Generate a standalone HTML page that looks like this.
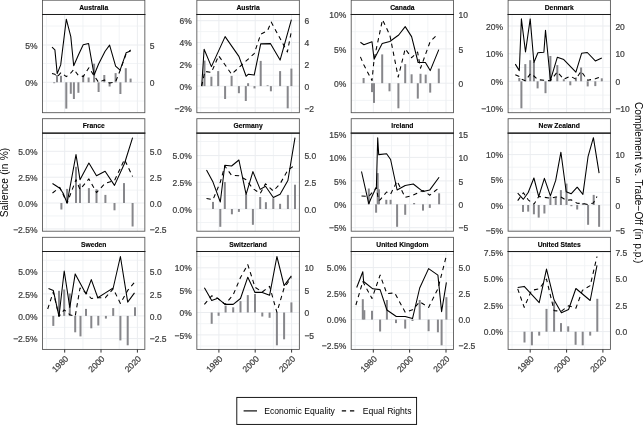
<!DOCTYPE html>
<html><head><meta charset="utf-8"><title>Salience panels</title>
<style>html,body{margin:0;padding:0;background:#fff;overflow:hidden}svg{display:block}</style>
</head><body>
<svg width="643" height="425" viewBox="0 0 643 425" font-family='"Liberation Sans", Arial, Helvetica, sans-serif'>
<rect x="0" y="0" width="643" height="425" fill="#ffffff"/>
<g>
<clipPath id="cAustralia"><rect x="42.55" y="14.4" width="102.3" height="98.3"/></clipPath>
<rect x="42.55" y="14.4" width="102.3" height="98.3" fill="#fff"/>
<g clip-path="url(#cAustralia)">
<line x1="42.55" x2="144.85" y1="26.0" y2="26.0" stroke="#eff1f4" stroke-width="0.8"/>
<line x1="42.55" x2="144.85" y1="63.5" y2="63.5" stroke="#eff1f4" stroke-width="0.8"/>
<line x1="42.55" x2="144.85" y1="101.0" y2="101.0" stroke="#eff1f4" stroke-width="0.8"/>
<line x1="46.5" x2="46.5" y1="14.4" y2="112.7" stroke="#eff1f4" stroke-width="0.8"/>
<line x1="82.9" x2="82.9" y1="14.4" y2="112.7" stroke="#eff1f4" stroke-width="0.8"/>
<line x1="119.2" x2="119.2" y1="14.4" y2="112.7" stroke="#eff1f4" stroke-width="0.8"/>
<line x1="42.55" x2="144.85" y1="45.0" y2="45.0" stroke="#ebedf0" stroke-width="1.0"/>
<line x1="42.55" x2="144.85" y1="82.3" y2="82.3" stroke="#ebedf0" stroke-width="1.0"/>
<line x1="64.7" x2="64.7" y1="14.4" y2="112.7" stroke="#ebedf0" stroke-width="1.0"/>
<line x1="101.0" x2="101.0" y1="14.4" y2="112.7" stroke="#ebedf0" stroke-width="1.0"/>
<line x1="137.4" x2="137.4" y1="14.4" y2="112.7" stroke="#ebedf0" stroke-width="1.0"/>
<rect x="53.20" y="82.3" width="2.0" height="0.9" fill="#87878b"/>
<rect x="56.00" y="75.0" width="2.0" height="7.3" fill="#87878b"/>
<rect x="60.00" y="75.8" width="2.0" height="6.5" fill="#87878b"/>
<rect x="65.30" y="82.3" width="2.0" height="26.3" fill="#87878b"/>
<rect x="69.80" y="82.3" width="2.0" height="11.5" fill="#87878b"/>
<rect x="72.90" y="82.3" width="2.0" height="16.7" fill="#87878b"/>
<rect x="77.40" y="82.3" width="2.0" height="10.5" fill="#87878b"/>
<rect x="82.20" y="75.0" width="2.0" height="7.3" fill="#87878b"/>
<rect x="87.60" y="77.5" width="2.0" height="4.8" fill="#87878b"/>
<rect x="93.10" y="63.7" width="2.0" height="18.6" fill="#87878b"/>
<rect x="97.60" y="82.3" width="2.0" height="9.7" fill="#87878b"/>
<rect x="103.30" y="75.0" width="2.0" height="7.3" fill="#87878b"/>
<rect x="108.60" y="82.3" width="2.0" height="4.2" fill="#87878b"/>
<rect x="114.60" y="73.1" width="2.0" height="9.2" fill="#87878b"/>
<rect x="119.40" y="82.3" width="2.0" height="11.7" fill="#87878b"/>
<rect x="124.80" y="68.2" width="2.0" height="14.1" fill="#87878b"/>
<rect x="129.60" y="78.6" width="2.0" height="3.7" fill="#87878b"/>
<polyline points="52.0,47.2 54.9,49.9 57.2,73.6 60.7,64.9 66.3,19.2 70.8,36.6 73.7,65.8 78.4,55.0 83.2,44.7 88.6,43.6 94.1,75.0 98.6,64.0 105.1,51.2 109.6,45.1 115.6,66.1 120.1,70.2 126.1,52.8 130.6,50.9" fill="none" stroke="#000" stroke-width="1.06" stroke-linejoin="round"/>
<polyline points="52.0,73.4 54.9,74.2 57.0,77.0 61.0,72.5 66.3,76.6 70.8,73.0 73.9,69.4 78.4,75.5 83.2,76.6 88.9,67.7 94.1,75.8 98.6,82.3 104.3,79.9 109.6,83.1 115.6,81.8 120.1,70.5 126.1,54.0 130.6,50.0" fill="none" stroke="#000" stroke-width="1.06" stroke-dasharray="4.3 3.85" stroke-linejoin="round"/>
</g>
<rect x="42.55" y="14.4" width="102.3" height="98.3" fill="none" stroke="#505050" stroke-width="0.85"/>
<rect x="42.55" y="0.2" width="102.3" height="14.2" fill="#fff" stroke="#505050" stroke-width="0.85"/>
<line x1="42.05" x2="145.35" y1="14.4" y2="14.4" stroke="#1c1c1c" stroke-width="1.05"/>
<text x="93.7" y="9.7" font-size="6.75" font-weight="bold" text-anchor="middle" fill="#000" stroke="#000" stroke-width="0.12">Australia</text>
<text transform="translate(37.5,48.65) scale(1,1.07)" font-size="8.5" text-anchor="end" fill="#3d3d3d" stroke="#3d3d3d" stroke-width="0.22">5%</text>
<text transform="translate(149.8,48.65) scale(1,1.07)" font-size="8.5" text-anchor="start" fill="#3d3d3d" stroke="#3d3d3d" stroke-width="0.22">5</text>
<text transform="translate(37.5,85.95) scale(1,1.07)" font-size="8.5" text-anchor="end" fill="#3d3d3d" stroke="#3d3d3d" stroke-width="0.22">0%</text>
<text transform="translate(149.8,85.95) scale(1,1.07)" font-size="8.5" text-anchor="start" fill="#3d3d3d" stroke="#3d3d3d" stroke-width="0.22">0</text>
</g>
<g>
<clipPath id="cAustria"><rect x="196.85" y="14.4" width="102.5" height="98.3"/></clipPath>
<rect x="196.85" y="14.4" width="102.5" height="98.3" fill="#fff"/>
<g clip-path="url(#cAustria)">
<line x1="196.85" x2="299.4" y1="31.6" y2="31.6" stroke="#eff1f4" stroke-width="0.8"/>
<line x1="196.85" x2="299.4" y1="53.4" y2="53.4" stroke="#eff1f4" stroke-width="0.8"/>
<line x1="196.85" x2="299.4" y1="75.2" y2="75.2" stroke="#eff1f4" stroke-width="0.8"/>
<line x1="196.85" x2="299.4" y1="97.0" y2="97.0" stroke="#eff1f4" stroke-width="0.8"/>
<line x1="200.7" x2="200.7" y1="14.4" y2="112.7" stroke="#eff1f4" stroke-width="0.8"/>
<line x1="237.1" x2="237.1" y1="14.4" y2="112.7" stroke="#eff1f4" stroke-width="0.8"/>
<line x1="273.4" x2="273.4" y1="14.4" y2="112.7" stroke="#eff1f4" stroke-width="0.8"/>
<line x1="196.85" x2="299.4" y1="20.7" y2="20.7" stroke="#ebedf0" stroke-width="1.0"/>
<line x1="196.85" x2="299.4" y1="42.5" y2="42.5" stroke="#ebedf0" stroke-width="1.0"/>
<line x1="196.85" x2="299.4" y1="64.3" y2="64.3" stroke="#ebedf0" stroke-width="1.0"/>
<line x1="196.85" x2="299.4" y1="86.1" y2="86.1" stroke="#ebedf0" stroke-width="1.0"/>
<line x1="196.85" x2="299.4" y1="107.9" y2="107.9" stroke="#ebedf0" stroke-width="1.0"/>
<line x1="218.9" x2="218.9" y1="14.4" y2="112.7" stroke="#ebedf0" stroke-width="1.0"/>
<line x1="255.2" x2="255.2" y1="14.4" y2="112.7" stroke="#ebedf0" stroke-width="1.0"/>
<line x1="291.6" x2="291.6" y1="14.4" y2="112.7" stroke="#ebedf0" stroke-width="1.0"/>
<rect x="203.50" y="60.6" width="2.0" height="25.5" fill="#87878b"/>
<rect x="210.40" y="76.7" width="2.0" height="9.4" fill="#87878b"/>
<rect x="217.20" y="71.1" width="2.0" height="15.0" fill="#87878b"/>
<rect x="224.10" y="86.1" width="2.0" height="12.9" fill="#87878b"/>
<rect x="230.60" y="75.9" width="2.0" height="10.2" fill="#87878b"/>
<rect x="237.90" y="86.1" width="2.0" height="7.1" fill="#87878b"/>
<rect x="244.80" y="86.1" width="2.0" height="14.9" fill="#87878b"/>
<rect x="247.10" y="83.2" width="2.0" height="2.9" fill="#87878b"/>
<rect x="253.50" y="86.1" width="2.0" height="2.3" fill="#87878b"/>
<rect x="259.70" y="60.9" width="2.0" height="25.2" fill="#87878b"/>
<rect x="266.60" y="85.3" width="2.0" height="0.8" fill="#87878b"/>
<rect x="269.90" y="86.1" width="2.0" height="5.2" fill="#87878b"/>
<rect x="279.10" y="71.1" width="2.0" height="15.0" fill="#87878b"/>
<rect x="286.70" y="86.1" width="2.0" height="22.2" fill="#87878b"/>
<rect x="290.40" y="68.6" width="2.0" height="17.5" fill="#87878b"/>
<polyline points="201.7,86.1 204.1,49.3 211.4,66.6 225.1,36.6 238.9,56.4 246.1,76.3 248.4,74.2 254.2,75.1 260.7,43.9 270.4,43.6 280.1,60.1 291.4,19.7" fill="none" stroke="#000" stroke-width="1.06" stroke-linejoin="round"/>
<polyline points="201.7,86.1 204.9,71.4 211.4,72.5 218.6,55.7 231.6,74.2 254.2,53.6 260.7,34.2 267.6,30.5 271.2,22.1 287.4,52.0 291.4,31.0" fill="none" stroke="#000" stroke-width="1.06" stroke-dasharray="4.3 3.85" stroke-linejoin="round"/>
</g>
<rect x="196.85" y="14.4" width="102.5" height="98.3" fill="none" stroke="#505050" stroke-width="0.85"/>
<rect x="196.85" y="0.2" width="102.5" height="14.2" fill="#fff" stroke="#505050" stroke-width="0.85"/>
<line x1="196.35" x2="299.90" y1="14.4" y2="14.4" stroke="#1c1c1c" stroke-width="1.05"/>
<text x="248.1" y="9.7" font-size="6.75" font-weight="bold" text-anchor="middle" fill="#000" stroke="#000" stroke-width="0.12">Austria</text>
<text transform="translate(191.8,24.35) scale(1,1.07)" font-size="8.5" text-anchor="end" fill="#3d3d3d" stroke="#3d3d3d" stroke-width="0.22">6%</text>
<text transform="translate(304.4,24.35) scale(1,1.07)" font-size="8.5" text-anchor="start" fill="#3d3d3d" stroke="#3d3d3d" stroke-width="0.22">6</text>
<text transform="translate(191.8,46.15) scale(1,1.07)" font-size="8.5" text-anchor="end" fill="#3d3d3d" stroke="#3d3d3d" stroke-width="0.22">4%</text>
<text transform="translate(304.4,46.15) scale(1,1.07)" font-size="8.5" text-anchor="start" fill="#3d3d3d" stroke="#3d3d3d" stroke-width="0.22">4</text>
<text transform="translate(191.8,67.95) scale(1,1.07)" font-size="8.5" text-anchor="end" fill="#3d3d3d" stroke="#3d3d3d" stroke-width="0.22">2%</text>
<text transform="translate(304.4,67.95) scale(1,1.07)" font-size="8.5" text-anchor="start" fill="#3d3d3d" stroke="#3d3d3d" stroke-width="0.22">2</text>
<text transform="translate(191.8,89.75) scale(1,1.07)" font-size="8.5" text-anchor="end" fill="#3d3d3d" stroke="#3d3d3d" stroke-width="0.22">0%</text>
<text transform="translate(304.4,89.75) scale(1,1.07)" font-size="8.5" text-anchor="start" fill="#3d3d3d" stroke="#3d3d3d" stroke-width="0.22">0</text>
<text transform="translate(191.8,111.55) scale(1,1.07)" font-size="8.5" text-anchor="end" fill="#3d3d3d" stroke="#3d3d3d" stroke-width="0.22">−2%</text>
<text transform="translate(304.4,111.55) scale(1,1.07)" font-size="8.5" text-anchor="start" fill="#3d3d3d" stroke="#3d3d3d" stroke-width="0.22">−2</text>
</g>
<g>
<clipPath id="cCanada"><rect x="351.2" y="14.4" width="102.3" height="98.3"/></clipPath>
<rect x="351.2" y="14.4" width="102.3" height="98.3" fill="#fff"/>
<g clip-path="url(#cCanada)">
<line x1="351.2" x2="453.5" y1="31.7" y2="31.7" stroke="#eff1f4" stroke-width="0.8"/>
<line x1="351.2" x2="453.5" y1="66.0" y2="66.0" stroke="#eff1f4" stroke-width="0.8"/>
<line x1="351.2" x2="453.5" y1="100.4" y2="100.4" stroke="#eff1f4" stroke-width="0.8"/>
<line x1="355.1" x2="355.1" y1="14.4" y2="112.7" stroke="#eff1f4" stroke-width="0.8"/>
<line x1="391.5" x2="391.5" y1="14.4" y2="112.7" stroke="#eff1f4" stroke-width="0.8"/>
<line x1="427.8" x2="427.8" y1="14.4" y2="112.7" stroke="#eff1f4" stroke-width="0.8"/>
<line x1="351.2" x2="453.5" y1="14.5" y2="14.5" stroke="#ebedf0" stroke-width="1.0"/>
<line x1="351.2" x2="453.5" y1="48.9" y2="48.9" stroke="#ebedf0" stroke-width="1.0"/>
<line x1="351.2" x2="453.5" y1="83.2" y2="83.2" stroke="#ebedf0" stroke-width="1.0"/>
<line x1="373.3" x2="373.3" y1="14.4" y2="112.7" stroke="#ebedf0" stroke-width="1.0"/>
<line x1="409.6" x2="409.6" y1="14.4" y2="112.7" stroke="#ebedf0" stroke-width="1.0"/>
<line x1="446.0" x2="446.0" y1="14.4" y2="112.7" stroke="#ebedf0" stroke-width="1.0"/>
<rect x="362.60" y="78.0" width="2.0" height="5.2" fill="#87878b"/>
<rect x="371.00" y="83.2" width="2.0" height="8.9" fill="#87878b"/>
<rect x="373.00" y="83.2" width="2.0" height="19.7" fill="#87878b"/>
<rect x="381.20" y="54.4" width="2.0" height="28.8" fill="#87878b"/>
<rect x="388.50" y="83.2" width="2.0" height="8.1" fill="#87878b"/>
<rect x="397.40" y="83.2" width="2.0" height="25.1" fill="#87878b"/>
<rect x="404.20" y="64.1" width="2.0" height="19.1" fill="#87878b"/>
<rect x="410.60" y="74.3" width="2.0" height="8.9" fill="#87878b"/>
<rect x="416.80" y="83.2" width="2.0" height="15.4" fill="#87878b"/>
<rect x="419.50" y="73.8" width="2.0" height="9.4" fill="#87878b"/>
<rect x="424.70" y="74.6" width="2.0" height="8.6" fill="#87878b"/>
<rect x="429.20" y="83.2" width="2.0" height="9.4" fill="#87878b"/>
<rect x="437.80" y="68.6" width="2.0" height="14.6" fill="#87878b"/>
<polyline points="360.4,42.3 363.9,44.7 372.0,41.8 374.1,59.3 382.2,43.6 389.8,41.5 398.7,35.0 405.2,26.6 411.6,36.6 418.1,62.5 425.4,62.5 430.2,70.6 438.8,49.6" fill="none" stroke="#000" stroke-width="1.06" stroke-linejoin="round"/>
<polyline points="360.4,56.9 363.9,65.0 372.0,80.6 374.1,59.3 382.5,19.7 389.8,35.0 398.2,77.1 405.2,48.8 411.6,57.7 417.6,52.0 420.5,68.2 430.2,41.5 438.0,34.0" fill="none" stroke="#000" stroke-width="1.06" stroke-dasharray="4.3 3.85" stroke-linejoin="round"/>
</g>
<rect x="351.2" y="14.4" width="102.3" height="98.3" fill="none" stroke="#505050" stroke-width="0.85"/>
<rect x="351.2" y="0.2" width="102.3" height="14.2" fill="#fff" stroke="#505050" stroke-width="0.85"/>
<line x1="350.70" x2="454.00" y1="14.4" y2="14.4" stroke="#1c1c1c" stroke-width="1.05"/>
<text x="402.4" y="9.7" font-size="6.75" font-weight="bold" text-anchor="middle" fill="#000" stroke="#000" stroke-width="0.12">Canada</text>
<text transform="translate(346.2,18.15) scale(1,1.07)" font-size="8.5" text-anchor="end" fill="#3d3d3d" stroke="#3d3d3d" stroke-width="0.22">10%</text>
<text transform="translate(458.5,18.15) scale(1,1.07)" font-size="8.5" text-anchor="start" fill="#3d3d3d" stroke="#3d3d3d" stroke-width="0.22">10</text>
<text transform="translate(346.2,52.55) scale(1,1.07)" font-size="8.5" text-anchor="end" fill="#3d3d3d" stroke="#3d3d3d" stroke-width="0.22">5%</text>
<text transform="translate(458.5,52.55) scale(1,1.07)" font-size="8.5" text-anchor="start" fill="#3d3d3d" stroke="#3d3d3d" stroke-width="0.22">5</text>
<text transform="translate(346.2,86.85) scale(1,1.07)" font-size="8.5" text-anchor="end" fill="#3d3d3d" stroke="#3d3d3d" stroke-width="0.22">0%</text>
<text transform="translate(458.5,86.85) scale(1,1.07)" font-size="8.5" text-anchor="start" fill="#3d3d3d" stroke="#3d3d3d" stroke-width="0.22">0</text>
</g>
<g>
<clipPath id="cDenmark"><rect x="508.1" y="14.4" width="102.3" height="98.3"/></clipPath>
<rect x="508.1" y="14.4" width="102.3" height="98.3" fill="#fff"/>
<g clip-path="url(#cDenmark)">
<line x1="508.1" x2="610.4" y1="40.0" y2="40.0" stroke="#eff1f4" stroke-width="0.8"/>
<line x1="508.1" x2="610.4" y1="67.5" y2="67.5" stroke="#eff1f4" stroke-width="0.8"/>
<line x1="508.1" x2="610.4" y1="95.1" y2="95.1" stroke="#eff1f4" stroke-width="0.8"/>
<line x1="512.0" x2="512.0" y1="14.4" y2="112.7" stroke="#eff1f4" stroke-width="0.8"/>
<line x1="548.4" x2="548.4" y1="14.4" y2="112.7" stroke="#eff1f4" stroke-width="0.8"/>
<line x1="584.7" x2="584.7" y1="14.4" y2="112.7" stroke="#eff1f4" stroke-width="0.8"/>
<line x1="508.1" x2="610.4" y1="26.0" y2="26.0" stroke="#ebedf0" stroke-width="1.0"/>
<line x1="508.1" x2="610.4" y1="53.8" y2="53.8" stroke="#ebedf0" stroke-width="1.0"/>
<line x1="508.1" x2="610.4" y1="81.3" y2="81.3" stroke="#ebedf0" stroke-width="1.0"/>
<line x1="508.1" x2="610.4" y1="108.8" y2="108.8" stroke="#ebedf0" stroke-width="1.0"/>
<line x1="530.2" x2="530.2" y1="14.4" y2="112.7" stroke="#ebedf0" stroke-width="1.0"/>
<line x1="566.6" x2="566.6" y1="14.4" y2="112.7" stroke="#ebedf0" stroke-width="1.0"/>
<line x1="602.9" x2="602.9" y1="14.4" y2="112.7" stroke="#ebedf0" stroke-width="1.0"/>
<rect x="518.30" y="78.0" width="2.0" height="3.3" fill="#87878b"/>
<rect x="520.40" y="81.3" width="2.0" height="27.0" fill="#87878b"/>
<rect x="524.30" y="64.1" width="2.0" height="17.2" fill="#87878b"/>
<rect x="529.20" y="60.2" width="2.0" height="21.1" fill="#87878b"/>
<rect x="532.90" y="62.2" width="2.0" height="19.1" fill="#87878b"/>
<rect x="536.60" y="81.3" width="2.0" height="7.1" fill="#87878b"/>
<rect x="544.50" y="81.3" width="2.0" height="11.9" fill="#87878b"/>
<rect x="549.40" y="56.0" width="2.0" height="25.3" fill="#87878b"/>
<rect x="556.30" y="65.1" width="2.0" height="16.2" fill="#87878b"/>
<rect x="562.80" y="79.2" width="2.0" height="2.1" fill="#87878b"/>
<rect x="569.30" y="81.3" width="2.0" height="4.0" fill="#87878b"/>
<rect x="574.90" y="77.5" width="2.0" height="3.8" fill="#87878b"/>
<rect x="580.10" y="67.5" width="2.0" height="13.8" fill="#87878b"/>
<rect x="586.70" y="81.3" width="2.0" height="5.1" fill="#87878b"/>
<rect x="594.30" y="81.3" width="2.0" height="4.8" fill="#87878b"/>
<rect x="600.80" y="78.3" width="2.0" height="3.0" fill="#87878b"/>
<polyline points="515.3,64.1 519.3,70.6 521.4,18.9 525.5,52.0 530.2,18.9 533.9,62.5 537.9,52.8 543.9,52.3 545.5,30.2 550.4,80.3 557.3,57.3 563.8,59.6 575.9,72.2 581.6,53.3 587.3,52.5 595.3,60.9 601.8,58.0" fill="none" stroke="#000" stroke-width="1.06" stroke-linejoin="round"/>
<polyline points="515.3,74.8 519.3,76.4 521.4,79.2 525.3,80.8 530.6,73.5 533.9,76.0 537.6,79.6 545.5,80.5 550.4,80.8 557.3,71.9 563.8,79.2 570.3,76.2 575.9,79.2 581.1,71.1 587.7,80.3 595.3,78.8 601.8,76.4" fill="none" stroke="#000" stroke-width="1.06" stroke-dasharray="4.3 3.85" stroke-linejoin="round"/>
</g>
<rect x="508.1" y="14.4" width="102.3" height="98.3" fill="none" stroke="#505050" stroke-width="0.85"/>
<rect x="508.1" y="0.2" width="102.3" height="14.2" fill="#fff" stroke="#505050" stroke-width="0.85"/>
<line x1="507.60" x2="610.90" y1="14.4" y2="14.4" stroke="#1c1c1c" stroke-width="1.05"/>
<text x="559.2" y="9.7" font-size="6.75" font-weight="bold" text-anchor="middle" fill="#000" stroke="#000" stroke-width="0.12">Denmark</text>
<text transform="translate(503.1,29.65) scale(1,1.07)" font-size="8.5" text-anchor="end" fill="#3d3d3d" stroke="#3d3d3d" stroke-width="0.22">20%</text>
<text transform="translate(615.4,29.65) scale(1,1.07)" font-size="8.5" text-anchor="start" fill="#3d3d3d" stroke="#3d3d3d" stroke-width="0.22">20</text>
<text transform="translate(503.1,57.45) scale(1,1.07)" font-size="8.5" text-anchor="end" fill="#3d3d3d" stroke="#3d3d3d" stroke-width="0.22">10%</text>
<text transform="translate(615.4,57.45) scale(1,1.07)" font-size="8.5" text-anchor="start" fill="#3d3d3d" stroke="#3d3d3d" stroke-width="0.22">10</text>
<text transform="translate(503.1,84.95) scale(1,1.07)" font-size="8.5" text-anchor="end" fill="#3d3d3d" stroke="#3d3d3d" stroke-width="0.22">0%</text>
<text transform="translate(615.4,84.95) scale(1,1.07)" font-size="8.5" text-anchor="start" fill="#3d3d3d" stroke="#3d3d3d" stroke-width="0.22">0</text>
<text transform="translate(503.1,112.45) scale(1,1.07)" font-size="8.5" text-anchor="end" fill="#3d3d3d" stroke="#3d3d3d" stroke-width="0.22">−10%</text>
<text transform="translate(615.4,112.45) scale(1,1.07)" font-size="8.5" text-anchor="start" fill="#3d3d3d" stroke="#3d3d3d" stroke-width="0.22">−10</text>
</g>
<g>
<clipPath id="cFrance"><rect x="42.55" y="133.1" width="102.3" height="98.1"/></clipPath>
<rect x="42.55" y="133.1" width="102.3" height="98.1" fill="#fff"/>
<g clip-path="url(#cFrance)">
<line x1="42.55" x2="144.85" y1="138.4" y2="138.4" stroke="#eff1f4" stroke-width="0.8"/>
<line x1="42.55" x2="144.85" y1="164.2" y2="164.2" stroke="#eff1f4" stroke-width="0.8"/>
<line x1="42.55" x2="144.85" y1="190.1" y2="190.1" stroke="#eff1f4" stroke-width="0.8"/>
<line x1="42.55" x2="144.85" y1="215.9" y2="215.9" stroke="#eff1f4" stroke-width="0.8"/>
<line x1="46.5" x2="46.5" y1="133.1" y2="231.2" stroke="#eff1f4" stroke-width="0.8"/>
<line x1="82.9" x2="82.9" y1="133.1" y2="231.2" stroke="#eff1f4" stroke-width="0.8"/>
<line x1="119.2" x2="119.2" y1="133.1" y2="231.2" stroke="#eff1f4" stroke-width="0.8"/>
<line x1="42.55" x2="144.85" y1="151.3" y2="151.3" stroke="#ebedf0" stroke-width="1.0"/>
<line x1="42.55" x2="144.85" y1="177.2" y2="177.2" stroke="#ebedf0" stroke-width="1.0"/>
<line x1="42.55" x2="144.85" y1="203.0" y2="203.0" stroke="#ebedf0" stroke-width="1.0"/>
<line x1="42.55" x2="144.85" y1="228.9" y2="228.9" stroke="#ebedf0" stroke-width="1.0"/>
<line x1="64.7" x2="64.7" y1="133.1" y2="231.2" stroke="#ebedf0" stroke-width="1.0"/>
<line x1="101.0" x2="101.0" y1="133.1" y2="231.2" stroke="#ebedf0" stroke-width="1.0"/>
<line x1="137.4" x2="137.4" y1="133.1" y2="231.2" stroke="#ebedf0" stroke-width="1.0"/>
<rect x="60.40" y="203.0" width="2.0" height="6.5" fill="#87878b"/>
<rect x="66.10" y="188.9" width="2.0" height="14.1" fill="#87878b"/>
<rect x="75.00" y="166.8" width="2.0" height="36.2" fill="#87878b"/>
<rect x="79.00" y="183.6" width="2.0" height="19.4" fill="#87878b"/>
<rect x="87.90" y="188.1" width="2.0" height="14.9" fill="#87878b"/>
<rect x="95.50" y="189.3" width="2.0" height="13.7" fill="#87878b"/>
<rect x="104.40" y="194.9" width="2.0" height="8.1" fill="#87878b"/>
<rect x="113.50" y="203.0" width="2.0" height="7.3" fill="#87878b"/>
<rect x="123.00" y="183.1" width="2.0" height="19.9" fill="#87878b"/>
<rect x="131.60" y="203.0" width="2.0" height="23.5" fill="#87878b"/>
<polyline points="52.5,183.5 59.8,188.2 63.0,193.0 67.1,203.0 76.0,154.6 80.0,179.7 88.9,163.1 96.5,175.7 105.1,171.3 114.5,185.4 124.5,163.5 132.6,137.7" fill="none" stroke="#000" stroke-width="1.06" stroke-linejoin="round"/>
<polyline points="52.5,193.0 59.8,187.4 67.1,203.0 76.0,179.7 80.0,189.4 88.9,178.9 96.5,192.6 105.1,183.4 114.5,180.5 124.5,159.5 132.6,176.5" fill="none" stroke="#000" stroke-width="1.06" stroke-dasharray="4.3 3.85" stroke-linejoin="round"/>
</g>
<rect x="42.55" y="133.1" width="102.3" height="98.1" fill="none" stroke="#505050" stroke-width="0.85"/>
<rect x="42.55" y="118.7" width="102.3" height="14.4" fill="#fff" stroke="#505050" stroke-width="0.85"/>
<line x1="42.05" x2="145.35" y1="133.1" y2="133.1" stroke="#1c1c1c" stroke-width="1.05"/>
<text x="93.7" y="128.3" font-size="6.75" font-weight="bold" text-anchor="middle" fill="#000" stroke="#000" stroke-width="0.12">France</text>
<text transform="translate(37.5,154.95) scale(1,1.07)" font-size="8.5" text-anchor="end" fill="#3d3d3d" stroke="#3d3d3d" stroke-width="0.22">5.0%</text>
<text transform="translate(149.8,154.95) scale(1,1.07)" font-size="8.5" text-anchor="start" fill="#3d3d3d" stroke="#3d3d3d" stroke-width="0.22">5.0</text>
<text transform="translate(37.5,180.85) scale(1,1.07)" font-size="8.5" text-anchor="end" fill="#3d3d3d" stroke="#3d3d3d" stroke-width="0.22">2.5%</text>
<text transform="translate(149.8,180.85) scale(1,1.07)" font-size="8.5" text-anchor="start" fill="#3d3d3d" stroke="#3d3d3d" stroke-width="0.22">2.5</text>
<text transform="translate(37.5,206.65) scale(1,1.07)" font-size="8.5" text-anchor="end" fill="#3d3d3d" stroke="#3d3d3d" stroke-width="0.22">0.0%</text>
<text transform="translate(149.8,206.65) scale(1,1.07)" font-size="8.5" text-anchor="start" fill="#3d3d3d" stroke="#3d3d3d" stroke-width="0.22">0.0</text>
<text transform="translate(37.5,232.55) scale(1,1.07)" font-size="8.5" text-anchor="end" fill="#3d3d3d" stroke="#3d3d3d" stroke-width="0.22">−2.5%</text>
<text transform="translate(149.8,232.55) scale(1,1.07)" font-size="8.5" text-anchor="start" fill="#3d3d3d" stroke="#3d3d3d" stroke-width="0.22">−2.5</text>
</g>
<g>
<clipPath id="cGermany"><rect x="196.85" y="133.1" width="102.5" height="98.1"/></clipPath>
<rect x="196.85" y="133.1" width="102.5" height="98.1" fill="#fff"/>
<g clip-path="url(#cGermany)">
<line x1="196.85" x2="299.4" y1="141.5" y2="141.5" stroke="#eff1f4" stroke-width="0.8"/>
<line x1="196.85" x2="299.4" y1="168.5" y2="168.5" stroke="#eff1f4" stroke-width="0.8"/>
<line x1="196.85" x2="299.4" y1="195.5" y2="195.5" stroke="#eff1f4" stroke-width="0.8"/>
<line x1="196.85" x2="299.4" y1="222.5" y2="222.5" stroke="#eff1f4" stroke-width="0.8"/>
<line x1="200.7" x2="200.7" y1="133.1" y2="231.2" stroke="#eff1f4" stroke-width="0.8"/>
<line x1="237.1" x2="237.1" y1="133.1" y2="231.2" stroke="#eff1f4" stroke-width="0.8"/>
<line x1="273.4" x2="273.4" y1="133.1" y2="231.2" stroke="#eff1f4" stroke-width="0.8"/>
<line x1="196.85" x2="299.4" y1="155.6" y2="155.6" stroke="#ebedf0" stroke-width="1.0"/>
<line x1="196.85" x2="299.4" y1="182.3" y2="182.3" stroke="#ebedf0" stroke-width="1.0"/>
<line x1="196.85" x2="299.4" y1="209.0" y2="209.0" stroke="#ebedf0" stroke-width="1.0"/>
<line x1="218.9" x2="218.9" y1="133.1" y2="231.2" stroke="#ebedf0" stroke-width="1.0"/>
<line x1="255.2" x2="255.2" y1="133.1" y2="231.2" stroke="#ebedf0" stroke-width="1.0"/>
<line x1="291.6" x2="291.6" y1="133.1" y2="231.2" stroke="#ebedf0" stroke-width="1.0"/>
<rect x="212.00" y="201.9" width="2.0" height="7.1" fill="#87878b"/>
<rect x="219.30" y="209.0" width="2.0" height="17.8" fill="#87878b"/>
<rect x="223.80" y="182.0" width="2.0" height="27.0" fill="#87878b"/>
<rect x="230.90" y="209.0" width="2.0" height="5.3" fill="#87878b"/>
<rect x="237.90" y="209.0" width="2.0" height="2.9" fill="#87878b"/>
<rect x="245.10" y="194.1" width="2.0" height="14.9" fill="#87878b"/>
<rect x="251.90" y="209.0" width="2.0" height="15.8" fill="#87878b"/>
<rect x="259.20" y="197.0" width="2.0" height="12.0" fill="#87878b"/>
<rect x="264.90" y="202.2" width="2.0" height="6.8" fill="#87878b"/>
<rect x="272.30" y="198.2" width="2.0" height="10.8" fill="#87878b"/>
<rect x="279.10" y="203.8" width="2.0" height="5.2" fill="#87878b"/>
<rect x="286.90" y="194.9" width="2.0" height="14.1" fill="#87878b"/>
<rect x="294.00" y="184.7" width="2.0" height="24.3" fill="#87878b"/>
<polyline points="206.5,170.0 213.0,182.1 220.3,202.0 224.8,165.2 231.6,166.0 238.9,160.0 246.1,194.3 252.9,171.6 260.2,189.4 265.5,186.2 273.3,197.5 280.1,194.3 287.9,180.5 295.0,137.7" fill="none" stroke="#000" stroke-width="1.06" stroke-linejoin="round"/>
<polyline points="206.5,198.5 213.0,199.6 220.3,182.1 224.8,166.0 231.6,175.3 238.9,175.7 246.1,179.7 252.9,188.6 260.2,193.5 265.5,183.8 273.3,191.0 280.1,183.8 287.9,170.0 295.0,165.2" fill="none" stroke="#000" stroke-width="1.06" stroke-dasharray="4.3 3.85" stroke-linejoin="round"/>
</g>
<rect x="196.85" y="133.1" width="102.5" height="98.1" fill="none" stroke="#505050" stroke-width="0.85"/>
<rect x="196.85" y="118.7" width="102.5" height="14.4" fill="#fff" stroke="#505050" stroke-width="0.85"/>
<line x1="196.35" x2="299.90" y1="133.1" y2="133.1" stroke="#1c1c1c" stroke-width="1.05"/>
<text x="248.1" y="128.3" font-size="6.75" font-weight="bold" text-anchor="middle" fill="#000" stroke="#000" stroke-width="0.12">Germany</text>
<text transform="translate(191.8,159.25) scale(1,1.07)" font-size="8.5" text-anchor="end" fill="#3d3d3d" stroke="#3d3d3d" stroke-width="0.22">5.0%</text>
<text transform="translate(304.4,159.25) scale(1,1.07)" font-size="8.5" text-anchor="start" fill="#3d3d3d" stroke="#3d3d3d" stroke-width="0.22">5.0</text>
<text transform="translate(191.8,185.95) scale(1,1.07)" font-size="8.5" text-anchor="end" fill="#3d3d3d" stroke="#3d3d3d" stroke-width="0.22">2.5%</text>
<text transform="translate(304.4,185.95) scale(1,1.07)" font-size="8.5" text-anchor="start" fill="#3d3d3d" stroke="#3d3d3d" stroke-width="0.22">2.5</text>
<text transform="translate(191.8,212.65) scale(1,1.07)" font-size="8.5" text-anchor="end" fill="#3d3d3d" stroke="#3d3d3d" stroke-width="0.22">0.0%</text>
<text transform="translate(304.4,212.65) scale(1,1.07)" font-size="8.5" text-anchor="start" fill="#3d3d3d" stroke="#3d3d3d" stroke-width="0.22">0.0</text>
</g>
<g>
<clipPath id="cIreland"><rect x="351.2" y="133.1" width="102.3" height="98.1"/></clipPath>
<rect x="351.2" y="133.1" width="102.3" height="98.1" fill="#fff"/>
<g clip-path="url(#cIreland)">
<line x1="351.2" x2="453.5" y1="145.7" y2="145.7" stroke="#eff1f4" stroke-width="0.8"/>
<line x1="351.2" x2="453.5" y1="169.2" y2="169.2" stroke="#eff1f4" stroke-width="0.8"/>
<line x1="351.2" x2="453.5" y1="192.6" y2="192.6" stroke="#eff1f4" stroke-width="0.8"/>
<line x1="351.2" x2="453.5" y1="216.0" y2="216.0" stroke="#eff1f4" stroke-width="0.8"/>
<line x1="355.1" x2="355.1" y1="133.1" y2="231.2" stroke="#eff1f4" stroke-width="0.8"/>
<line x1="391.5" x2="391.5" y1="133.1" y2="231.2" stroke="#eff1f4" stroke-width="0.8"/>
<line x1="427.8" x2="427.8" y1="133.1" y2="231.2" stroke="#eff1f4" stroke-width="0.8"/>
<line x1="351.2" x2="453.5" y1="134.0" y2="134.0" stroke="#ebedf0" stroke-width="1.0"/>
<line x1="351.2" x2="453.5" y1="157.4" y2="157.4" stroke="#ebedf0" stroke-width="1.0"/>
<line x1="351.2" x2="453.5" y1="180.9" y2="180.9" stroke="#ebedf0" stroke-width="1.0"/>
<line x1="351.2" x2="453.5" y1="204.3" y2="204.3" stroke="#ebedf0" stroke-width="1.0"/>
<line x1="351.2" x2="453.5" y1="227.7" y2="227.7" stroke="#ebedf0" stroke-width="1.0"/>
<line x1="373.3" x2="373.3" y1="133.1" y2="231.2" stroke="#ebedf0" stroke-width="1.0"/>
<line x1="409.6" x2="409.6" y1="133.1" y2="231.2" stroke="#ebedf0" stroke-width="1.0"/>
<line x1="446.0" x2="446.0" y1="133.1" y2="231.2" stroke="#ebedf0" stroke-width="1.0"/>
<rect x="367.80" y="188.5" width="2.0" height="15.8" fill="#87878b"/>
<rect x="375.10" y="204.3" width="2.0" height="8.4" fill="#87878b"/>
<rect x="376.70" y="173.1" width="2.0" height="31.2" fill="#87878b"/>
<rect x="378.00" y="189.3" width="2.0" height="15.0" fill="#87878b"/>
<rect x="385.30" y="199.8" width="2.0" height="4.5" fill="#87878b"/>
<rect x="389.60" y="199.8" width="2.0" height="4.5" fill="#87878b"/>
<rect x="396.10" y="204.3" width="2.0" height="22.5" fill="#87878b"/>
<rect x="404.20" y="204.3" width="2.0" height="10.5" fill="#87878b"/>
<rect x="413.10" y="203.0" width="2.0" height="1.3" fill="#87878b"/>
<rect x="422.00" y="204.3" width="2.0" height="6.3" fill="#87878b"/>
<rect x="428.80" y="204.3" width="2.0" height="3.6" fill="#87878b"/>
<rect x="438.10" y="193.3" width="2.0" height="11.0" fill="#87878b"/>
<polyline points="361.5,171.5 368.8,203.8 371.2,198.0 376.4,187.0 377.7,137.7 378.7,154.6 386.6,153.8 390.6,159.5 397.1,190.0 405.2,185.5 413.3,184.0 423.0,191.6 429.8,189.9 439.1,177.2" fill="none" stroke="#000" stroke-width="1.06" stroke-linejoin="round"/>
<polyline points="361.5,196.0 368.8,196.5 376.4,187.5 378.5,200.5 380.1,199.8 386.6,192.0 390.6,194.1 397.1,181.2 405.2,197.4 413.3,195.1 423.0,190.5 429.8,195.2 439.1,187.7" fill="none" stroke="#000" stroke-width="1.06" stroke-dasharray="4.3 3.85" stroke-linejoin="round"/>
</g>
<rect x="351.2" y="133.1" width="102.3" height="98.1" fill="none" stroke="#505050" stroke-width="0.85"/>
<rect x="351.2" y="118.7" width="102.3" height="14.4" fill="#fff" stroke="#505050" stroke-width="0.85"/>
<line x1="350.70" x2="454.00" y1="133.1" y2="133.1" stroke="#1c1c1c" stroke-width="1.05"/>
<text x="402.4" y="128.3" font-size="6.75" font-weight="bold" text-anchor="middle" fill="#000" stroke="#000" stroke-width="0.12">Ireland</text>
<text transform="translate(346.2,137.65) scale(1,1.07)" font-size="8.5" text-anchor="end" fill="#3d3d3d" stroke="#3d3d3d" stroke-width="0.22">15%</text>
<text transform="translate(458.5,137.65) scale(1,1.07)" font-size="8.5" text-anchor="start" fill="#3d3d3d" stroke="#3d3d3d" stroke-width="0.22">15</text>
<text transform="translate(346.2,161.05) scale(1,1.07)" font-size="8.5" text-anchor="end" fill="#3d3d3d" stroke="#3d3d3d" stroke-width="0.22">10%</text>
<text transform="translate(458.5,161.05) scale(1,1.07)" font-size="8.5" text-anchor="start" fill="#3d3d3d" stroke="#3d3d3d" stroke-width="0.22">10</text>
<text transform="translate(346.2,184.55) scale(1,1.07)" font-size="8.5" text-anchor="end" fill="#3d3d3d" stroke="#3d3d3d" stroke-width="0.22">5%</text>
<text transform="translate(458.5,184.55) scale(1,1.07)" font-size="8.5" text-anchor="start" fill="#3d3d3d" stroke="#3d3d3d" stroke-width="0.22">5</text>
<text transform="translate(346.2,207.95) scale(1,1.07)" font-size="8.5" text-anchor="end" fill="#3d3d3d" stroke="#3d3d3d" stroke-width="0.22">0%</text>
<text transform="translate(458.5,207.95) scale(1,1.07)" font-size="8.5" text-anchor="start" fill="#3d3d3d" stroke="#3d3d3d" stroke-width="0.22">0</text>
<text transform="translate(346.2,231.35) scale(1,1.07)" font-size="8.5" text-anchor="end" fill="#3d3d3d" stroke="#3d3d3d" stroke-width="0.22">−5%</text>
<text transform="translate(458.5,231.35) scale(1,1.07)" font-size="8.5" text-anchor="start" fill="#3d3d3d" stroke="#3d3d3d" stroke-width="0.22">−5</text>
</g>
<g>
<clipPath id="cNewZealand"><rect x="508.1" y="133.1" width="102.3" height="98.1"/></clipPath>
<rect x="508.1" y="133.1" width="102.3" height="98.1" fill="#fff"/>
<g clip-path="url(#cNewZealand)">
<line x1="508.1" x2="610.4" y1="142.0" y2="142.0" stroke="#eff1f4" stroke-width="0.8"/>
<line x1="508.1" x2="610.4" y1="167.2" y2="167.2" stroke="#eff1f4" stroke-width="0.8"/>
<line x1="508.1" x2="610.4" y1="192.4" y2="192.4" stroke="#eff1f4" stroke-width="0.8"/>
<line x1="508.1" x2="610.4" y1="217.6" y2="217.6" stroke="#eff1f4" stroke-width="0.8"/>
<line x1="512.0" x2="512.0" y1="133.1" y2="231.2" stroke="#eff1f4" stroke-width="0.8"/>
<line x1="548.4" x2="548.4" y1="133.1" y2="231.2" stroke="#eff1f4" stroke-width="0.8"/>
<line x1="584.7" x2="584.7" y1="133.1" y2="231.2" stroke="#eff1f4" stroke-width="0.8"/>
<line x1="508.1" x2="610.4" y1="154.6" y2="154.6" stroke="#ebedf0" stroke-width="1.0"/>
<line x1="508.1" x2="610.4" y1="179.8" y2="179.8" stroke="#ebedf0" stroke-width="1.0"/>
<line x1="508.1" x2="610.4" y1="205.0" y2="205.0" stroke="#ebedf0" stroke-width="1.0"/>
<line x1="508.1" x2="610.4" y1="230.2" y2="230.2" stroke="#ebedf0" stroke-width="1.0"/>
<line x1="530.2" x2="530.2" y1="133.1" y2="231.2" stroke="#ebedf0" stroke-width="1.0"/>
<line x1="566.6" x2="566.6" y1="133.1" y2="231.2" stroke="#ebedf0" stroke-width="1.0"/>
<line x1="602.9" x2="602.9" y1="133.1" y2="231.2" stroke="#ebedf0" stroke-width="1.0"/>
<rect x="522.00" y="205.0" width="2.0" height="6.9" fill="#87878b"/>
<rect x="527.20" y="205.0" width="2.0" height="6.6" fill="#87878b"/>
<rect x="532.90" y="205.0" width="2.0" height="9.3" fill="#87878b"/>
<rect x="537.70" y="205.0" width="2.0" height="12.6" fill="#87878b"/>
<rect x="543.40" y="205.0" width="2.0" height="8.5" fill="#87878b"/>
<rect x="549.40" y="196.5" width="2.0" height="8.5" fill="#87878b"/>
<rect x="554.70" y="197.3" width="2.0" height="7.7" fill="#87878b"/>
<rect x="559.90" y="190.1" width="2.0" height="14.9" fill="#87878b"/>
<rect x="565.50" y="183.6" width="2.0" height="21.4" fill="#87878b"/>
<rect x="570.40" y="205.0" width="2.0" height="1.2" fill="#87878b"/>
<rect x="576.20" y="205.0" width="2.0" height="4.5" fill="#87878b"/>
<rect x="581.90" y="203.0" width="2.0" height="2.0" fill="#87878b"/>
<rect x="587.10" y="205.0" width="2.0" height="19.8" fill="#87878b"/>
<rect x="592.70" y="194.9" width="2.0" height="10.1" fill="#87878b"/>
<rect x="598.10" y="205.0" width="2.0" height="21.8" fill="#87878b"/>
<polyline points="517.7,193.2 523.4,199.3 528.2,192.5 533.9,178.0 538.7,196.6 544.4,178.3 550.4,195.8 555.7,180.4 560.9,152.2 566.2,191.8 571.1,193.8 577.2,187.2 582.9,194.4 588.1,156.3 593.4,137.7 599.1,173.1" fill="none" stroke="#000" stroke-width="1.06" stroke-linejoin="round"/>
<polyline points="517.7,200.6 523.4,192.8 528.2,199.8 533.9,204.3 538.7,196.5 544.4,197.3 550.4,198.2 555.7,197.0 560.9,197.0 566.2,200.3 571.1,199.8 577.2,203.3 582.9,203.5 588.1,204.6 593.4,203.0 597.0,196.5" fill="none" stroke="#000" stroke-width="1.06" stroke-dasharray="4.3 3.85" stroke-linejoin="round"/>
</g>
<rect x="508.1" y="133.1" width="102.3" height="98.1" fill="none" stroke="#505050" stroke-width="0.85"/>
<rect x="508.1" y="118.7" width="102.3" height="14.4" fill="#fff" stroke="#505050" stroke-width="0.85"/>
<line x1="507.60" x2="610.90" y1="133.1" y2="133.1" stroke="#1c1c1c" stroke-width="1.05"/>
<text x="559.2" y="128.3" font-size="6.75" font-weight="bold" text-anchor="middle" fill="#000" stroke="#000" stroke-width="0.12">New Zealand</text>
<text transform="translate(503.1,158.25) scale(1,1.07)" font-size="8.5" text-anchor="end" fill="#3d3d3d" stroke="#3d3d3d" stroke-width="0.22">10%</text>
<text transform="translate(615.4,158.25) scale(1,1.07)" font-size="8.5" text-anchor="start" fill="#3d3d3d" stroke="#3d3d3d" stroke-width="0.22">10</text>
<text transform="translate(503.1,183.45) scale(1,1.07)" font-size="8.5" text-anchor="end" fill="#3d3d3d" stroke="#3d3d3d" stroke-width="0.22">5%</text>
<text transform="translate(615.4,183.45) scale(1,1.07)" font-size="8.5" text-anchor="start" fill="#3d3d3d" stroke="#3d3d3d" stroke-width="0.22">5</text>
<text transform="translate(503.1,208.65) scale(1,1.07)" font-size="8.5" text-anchor="end" fill="#3d3d3d" stroke="#3d3d3d" stroke-width="0.22">0%</text>
<text transform="translate(615.4,208.65) scale(1,1.07)" font-size="8.5" text-anchor="start" fill="#3d3d3d" stroke="#3d3d3d" stroke-width="0.22">0</text>
<text transform="translate(503.1,233.85) scale(1,1.07)" font-size="8.5" text-anchor="end" fill="#3d3d3d" stroke="#3d3d3d" stroke-width="0.22">−5%</text>
<text transform="translate(615.4,233.85) scale(1,1.07)" font-size="8.5" text-anchor="start" fill="#3d3d3d" stroke="#3d3d3d" stroke-width="0.22">−5</text>
</g>
<g>
<clipPath id="cSweden"><rect x="42.55" y="251.5" width="102.3" height="97.9"/></clipPath>
<rect x="42.55" y="251.5" width="102.3" height="97.9" fill="#fff"/>
<g clip-path="url(#cSweden)">
<line x1="42.55" x2="144.85" y1="260.3" y2="260.3" stroke="#eff1f4" stroke-width="0.8"/>
<line x1="42.55" x2="144.85" y1="282.7" y2="282.7" stroke="#eff1f4" stroke-width="0.8"/>
<line x1="42.55" x2="144.85" y1="305.0" y2="305.0" stroke="#eff1f4" stroke-width="0.8"/>
<line x1="42.55" x2="144.85" y1="327.4" y2="327.4" stroke="#eff1f4" stroke-width="0.8"/>
<line x1="46.5" x2="46.5" y1="251.5" y2="349.4" stroke="#eff1f4" stroke-width="0.8"/>
<line x1="82.9" x2="82.9" y1="251.5" y2="349.4" stroke="#eff1f4" stroke-width="0.8"/>
<line x1="119.2" x2="119.2" y1="251.5" y2="349.4" stroke="#eff1f4" stroke-width="0.8"/>
<line x1="42.55" x2="144.85" y1="271.5" y2="271.5" stroke="#ebedf0" stroke-width="1.0"/>
<line x1="42.55" x2="144.85" y1="293.9" y2="293.9" stroke="#ebedf0" stroke-width="1.0"/>
<line x1="42.55" x2="144.85" y1="315.9" y2="315.9" stroke="#ebedf0" stroke-width="1.0"/>
<line x1="42.55" x2="144.85" y1="338.6" y2="338.6" stroke="#ebedf0" stroke-width="1.0"/>
<line x1="64.7" x2="64.7" y1="251.5" y2="349.4" stroke="#ebedf0" stroke-width="1.0"/>
<line x1="101.0" x2="101.0" y1="251.5" y2="349.4" stroke="#ebedf0" stroke-width="1.0"/>
<line x1="137.4" x2="137.4" y1="251.5" y2="349.4" stroke="#ebedf0" stroke-width="1.0"/>
<rect x="52.30" y="315.9" width="2.0" height="10.0" fill="#87878b"/>
<rect x="58.00" y="290.8" width="2.0" height="25.1" fill="#87878b"/>
<rect x="63.20" y="289.5" width="2.0" height="26.4" fill="#87878b"/>
<rect x="68.80" y="293.5" width="2.0" height="22.4" fill="#87878b"/>
<rect x="74.20" y="315.9" width="2.0" height="16.4" fill="#87878b"/>
<rect x="79.50" y="315.9" width="2.0" height="20.5" fill="#87878b"/>
<rect x="85.00" y="308.9" width="2.0" height="7.0" fill="#87878b"/>
<rect x="90.30" y="315.9" width="2.0" height="12.4" fill="#87878b"/>
<rect x="97.30" y="315.9" width="2.0" height="9.6" fill="#87878b"/>
<rect x="104.90" y="315.9" width="2.0" height="2.7" fill="#87878b"/>
<rect x="112.20" y="308.1" width="2.0" height="7.8" fill="#87878b"/>
<rect x="119.40" y="315.9" width="2.0" height="24.5" fill="#87878b"/>
<rect x="126.70" y="315.9" width="2.0" height="29.4" fill="#87878b"/>
<rect x="134.00" y="307.3" width="2.0" height="8.6" fill="#87878b"/>
<polyline points="48.5,288.5 53.3,290.4 59.0,316.3 64.2,271.0 69.8,307.4 75.2,273.9 86.0,294.0 91.3,279.6 97.8,297.7 105.4,292.9 113.2,288.0 120.4,256.5 127.7,302.1 134.5,292.9" fill="none" stroke="#000" stroke-width="1.06" stroke-linejoin="round"/>
<polyline points="47.7,309.0 53.3,292.0 59.0,316.3 64.2,309.8 69.8,314.7 75.2,316.3 80.0,288.0 86.0,292.9 91.3,298.5 97.8,297.7 105.4,297.7 113.2,288.8 120.4,303.4 127.7,290.4 135.6,281.0" fill="none" stroke="#000" stroke-width="1.06" stroke-dasharray="4.3 3.85" stroke-linejoin="round"/>
</g>
<rect x="42.55" y="251.5" width="102.3" height="97.9" fill="none" stroke="#505050" stroke-width="0.85"/>
<rect x="42.55" y="237.3" width="102.3" height="14.2" fill="#fff" stroke="#505050" stroke-width="0.85"/>
<line x1="42.05" x2="145.35" y1="251.5" y2="251.5" stroke="#1c1c1c" stroke-width="1.05"/>
<text x="93.7" y="246.8" font-size="6.75" font-weight="bold" text-anchor="middle" fill="#000" stroke="#000" stroke-width="0.12">Sweden</text>
<text transform="translate(37.5,275.15) scale(1,1.07)" font-size="8.5" text-anchor="end" fill="#3d3d3d" stroke="#3d3d3d" stroke-width="0.22">5.0%</text>
<text transform="translate(149.8,275.15) scale(1,1.07)" font-size="8.5" text-anchor="start" fill="#3d3d3d" stroke="#3d3d3d" stroke-width="0.22">5.0</text>
<text transform="translate(37.5,297.55) scale(1,1.07)" font-size="8.5" text-anchor="end" fill="#3d3d3d" stroke="#3d3d3d" stroke-width="0.22">2.5%</text>
<text transform="translate(149.8,297.55) scale(1,1.07)" font-size="8.5" text-anchor="start" fill="#3d3d3d" stroke="#3d3d3d" stroke-width="0.22">2.5</text>
<text transform="translate(37.5,319.55) scale(1,1.07)" font-size="8.5" text-anchor="end" fill="#3d3d3d" stroke="#3d3d3d" stroke-width="0.22">0.0%</text>
<text transform="translate(149.8,319.55) scale(1,1.07)" font-size="8.5" text-anchor="start" fill="#3d3d3d" stroke="#3d3d3d" stroke-width="0.22">0.0</text>
<text transform="translate(37.5,342.25) scale(1,1.07)" font-size="8.5" text-anchor="end" fill="#3d3d3d" stroke="#3d3d3d" stroke-width="0.22">−2.5%</text>
<text transform="translate(149.8,342.25) scale(1,1.07)" font-size="8.5" text-anchor="start" fill="#3d3d3d" stroke="#3d3d3d" stroke-width="0.22">−2.5</text>
<line x1="64.7" x2="64.7" y1="349.4" y2="352.59999999999997" stroke="#333" stroke-width="1"/>
<text transform="translate(65.2,355.7) rotate(-45)" font-size="8.5" text-anchor="end" dominant-baseline="auto" dy="5.2" fill="#3d3d3d" stroke="#3d3d3d" stroke-width="0.22">1980</text>
<line x1="101.0" x2="101.0" y1="349.4" y2="352.59999999999997" stroke="#333" stroke-width="1"/>
<text transform="translate(101.5,355.7) rotate(-45)" font-size="8.5" text-anchor="end" dominant-baseline="auto" dy="5.2" fill="#3d3d3d" stroke="#3d3d3d" stroke-width="0.22">2000</text>
<line x1="137.4" x2="137.4" y1="349.4" y2="352.59999999999997" stroke="#333" stroke-width="1"/>
<text transform="translate(137.9,355.7) rotate(-45)" font-size="8.5" text-anchor="end" dominant-baseline="auto" dy="5.2" fill="#3d3d3d" stroke="#3d3d3d" stroke-width="0.22">2020</text>
</g>
<g>
<clipPath id="cSwitzerland"><rect x="196.85" y="251.5" width="102.5" height="97.9"/></clipPath>
<rect x="196.85" y="251.5" width="102.5" height="97.9" fill="#fff"/>
<g clip-path="url(#cSwitzerland)">
<line x1="196.85" x2="299.4" y1="256.6" y2="256.6" stroke="#eff1f4" stroke-width="0.8"/>
<line x1="196.85" x2="299.4" y1="279.0" y2="279.0" stroke="#eff1f4" stroke-width="0.8"/>
<line x1="196.85" x2="299.4" y1="301.3" y2="301.3" stroke="#eff1f4" stroke-width="0.8"/>
<line x1="196.85" x2="299.4" y1="323.7" y2="323.7" stroke="#eff1f4" stroke-width="0.8"/>
<line x1="196.85" x2="299.4" y1="346.0" y2="346.0" stroke="#eff1f4" stroke-width="0.8"/>
<line x1="200.7" x2="200.7" y1="251.5" y2="349.4" stroke="#eff1f4" stroke-width="0.8"/>
<line x1="237.1" x2="237.1" y1="251.5" y2="349.4" stroke="#eff1f4" stroke-width="0.8"/>
<line x1="273.4" x2="273.4" y1="251.5" y2="349.4" stroke="#eff1f4" stroke-width="0.8"/>
<line x1="196.85" x2="299.4" y1="267.8" y2="267.8" stroke="#ebedf0" stroke-width="1.0"/>
<line x1="196.85" x2="299.4" y1="290.1" y2="290.1" stroke="#ebedf0" stroke-width="1.0"/>
<line x1="196.85" x2="299.4" y1="312.5" y2="312.5" stroke="#ebedf0" stroke-width="1.0"/>
<line x1="196.85" x2="299.4" y1="334.9" y2="334.9" stroke="#ebedf0" stroke-width="1.0"/>
<line x1="218.9" x2="218.9" y1="251.5" y2="349.4" stroke="#ebedf0" stroke-width="1.0"/>
<line x1="255.2" x2="255.2" y1="251.5" y2="349.4" stroke="#ebedf0" stroke-width="1.0"/>
<line x1="291.6" x2="291.6" y1="251.5" y2="349.4" stroke="#ebedf0" stroke-width="1.0"/>
<rect x="210.70" y="312.5" width="2.0" height="11.3" fill="#87878b"/>
<rect x="217.60" y="312.5" width="2.0" height="3.3" fill="#87878b"/>
<rect x="224.60" y="305.6" width="2.0" height="6.9" fill="#87878b"/>
<rect x="232.20" y="307.3" width="2.0" height="5.2" fill="#87878b"/>
<rect x="239.50" y="301.1" width="2.0" height="11.4" fill="#87878b"/>
<rect x="246.80" y="295.1" width="2.0" height="17.4" fill="#87878b"/>
<rect x="254.00" y="294.0" width="2.0" height="18.5" fill="#87878b"/>
<rect x="261.30" y="312.5" width="2.0" height="4.0" fill="#87878b"/>
<rect x="268.60" y="312.5" width="2.0" height="5.3" fill="#87878b"/>
<rect x="275.90" y="312.5" width="2.0" height="32.8" fill="#87878b"/>
<rect x="283.10" y="312.5" width="2.0" height="26.8" fill="#87878b"/>
<rect x="290.40" y="302.4" width="2.0" height="10.1" fill="#87878b"/>
<polyline points="204.4,287.7 211.7,300.5 217.8,298.3 225.1,304.4 233.2,304.4 240.5,298.5 247.8,277.2 255.0,292.4 262.3,292.4 269.6,295.3 276.9,256.5 284.1,285.6 291.4,275.9" fill="none" stroke="#000" stroke-width="1.06" stroke-linejoin="round"/>
<polyline points="204.4,304.4 211.7,295.8 217.8,298.3 225.1,304.4 233.2,294.8 240.5,277.5 247.8,264.6 255.0,287.2 262.3,292.0 269.6,286.4 276.9,312.3 284.1,288.0 291.4,277.5" fill="none" stroke="#000" stroke-width="1.06" stroke-dasharray="4.3 3.85" stroke-linejoin="round"/>
</g>
<rect x="196.85" y="251.5" width="102.5" height="97.9" fill="none" stroke="#505050" stroke-width="0.85"/>
<rect x="196.85" y="237.3" width="102.5" height="14.2" fill="#fff" stroke="#505050" stroke-width="0.85"/>
<line x1="196.35" x2="299.90" y1="251.5" y2="251.5" stroke="#1c1c1c" stroke-width="1.05"/>
<text x="248.1" y="246.8" font-size="6.75" font-weight="bold" text-anchor="middle" fill="#000" stroke="#000" stroke-width="0.12">Switzerland</text>
<text transform="translate(191.8,271.45) scale(1,1.07)" font-size="8.5" text-anchor="end" fill="#3d3d3d" stroke="#3d3d3d" stroke-width="0.22">10%</text>
<text transform="translate(304.4,271.45) scale(1,1.07)" font-size="8.5" text-anchor="start" fill="#3d3d3d" stroke="#3d3d3d" stroke-width="0.22">10</text>
<text transform="translate(191.8,293.75) scale(1,1.07)" font-size="8.5" text-anchor="end" fill="#3d3d3d" stroke="#3d3d3d" stroke-width="0.22">5%</text>
<text transform="translate(304.4,293.75) scale(1,1.07)" font-size="8.5" text-anchor="start" fill="#3d3d3d" stroke="#3d3d3d" stroke-width="0.22">5</text>
<text transform="translate(191.8,316.15) scale(1,1.07)" font-size="8.5" text-anchor="end" fill="#3d3d3d" stroke="#3d3d3d" stroke-width="0.22">0%</text>
<text transform="translate(304.4,316.15) scale(1,1.07)" font-size="8.5" text-anchor="start" fill="#3d3d3d" stroke="#3d3d3d" stroke-width="0.22">0</text>
<text transform="translate(191.8,338.55) scale(1,1.07)" font-size="8.5" text-anchor="end" fill="#3d3d3d" stroke="#3d3d3d" stroke-width="0.22">−5%</text>
<text transform="translate(304.4,338.55) scale(1,1.07)" font-size="8.5" text-anchor="start" fill="#3d3d3d" stroke="#3d3d3d" stroke-width="0.22">−5</text>
<line x1="218.9" x2="218.9" y1="349.4" y2="352.59999999999997" stroke="#333" stroke-width="1"/>
<text transform="translate(219.4,355.7) rotate(-45)" font-size="8.5" text-anchor="end" dominant-baseline="auto" dy="5.2" fill="#3d3d3d" stroke="#3d3d3d" stroke-width="0.22">1980</text>
<line x1="255.2" x2="255.2" y1="349.4" y2="352.59999999999997" stroke="#333" stroke-width="1"/>
<text transform="translate(255.8,355.7) rotate(-45)" font-size="8.5" text-anchor="end" dominant-baseline="auto" dy="5.2" fill="#3d3d3d" stroke="#3d3d3d" stroke-width="0.22">2000</text>
<line x1="291.6" x2="291.6" y1="349.4" y2="352.59999999999997" stroke="#333" stroke-width="1"/>
<text transform="translate(292.1,355.7) rotate(-45)" font-size="8.5" text-anchor="end" dominant-baseline="auto" dy="5.2" fill="#3d3d3d" stroke="#3d3d3d" stroke-width="0.22">2020</text>
</g>
<g>
<clipPath id="cUnitedKingdom"><rect x="351.2" y="251.5" width="102.3" height="97.9"/></clipPath>
<rect x="351.2" y="251.5" width="102.3" height="97.9" fill="#fff"/>
<g clip-path="url(#cUnitedKingdom)">
<line x1="351.2" x2="453.5" y1="254.6" y2="254.6" stroke="#eff1f4" stroke-width="0.8"/>
<line x1="351.2" x2="453.5" y1="280.6" y2="280.6" stroke="#eff1f4" stroke-width="0.8"/>
<line x1="351.2" x2="453.5" y1="306.6" y2="306.6" stroke="#eff1f4" stroke-width="0.8"/>
<line x1="351.2" x2="453.5" y1="332.6" y2="332.6" stroke="#eff1f4" stroke-width="0.8"/>
<line x1="355.1" x2="355.1" y1="251.5" y2="349.4" stroke="#eff1f4" stroke-width="0.8"/>
<line x1="391.5" x2="391.5" y1="251.5" y2="349.4" stroke="#eff1f4" stroke-width="0.8"/>
<line x1="427.8" x2="427.8" y1="251.5" y2="349.4" stroke="#eff1f4" stroke-width="0.8"/>
<line x1="351.2" x2="453.5" y1="267.6" y2="267.6" stroke="#ebedf0" stroke-width="1.0"/>
<line x1="351.2" x2="453.5" y1="293.6" y2="293.6" stroke="#ebedf0" stroke-width="1.0"/>
<line x1="351.2" x2="453.5" y1="319.6" y2="319.6" stroke="#ebedf0" stroke-width="1.0"/>
<line x1="351.2" x2="453.5" y1="345.6" y2="345.6" stroke="#ebedf0" stroke-width="1.0"/>
<line x1="373.3" x2="373.3" y1="251.5" y2="349.4" stroke="#ebedf0" stroke-width="1.0"/>
<line x1="409.6" x2="409.6" y1="251.5" y2="349.4" stroke="#ebedf0" stroke-width="1.0"/>
<line x1="446.0" x2="446.0" y1="251.5" y2="349.4" stroke="#ebedf0" stroke-width="1.0"/>
<rect x="361.80" y="299.2" width="2.0" height="20.4" fill="#87878b"/>
<rect x="363.30" y="310.2" width="2.0" height="9.4" fill="#87878b"/>
<rect x="371.00" y="310.8" width="2.0" height="8.8" fill="#87878b"/>
<rect x="379.10" y="319.6" width="2.0" height="11.9" fill="#87878b"/>
<rect x="385.90" y="300.0" width="2.0" height="19.6" fill="#87878b"/>
<rect x="395.00" y="319.6" width="2.0" height="3.5" fill="#87878b"/>
<rect x="404.20" y="319.6" width="2.0" height="9.0" fill="#87878b"/>
<rect x="411.50" y="319.6" width="2.0" height="1.4" fill="#87878b"/>
<rect x="418.70" y="300.0" width="2.0" height="19.6" fill="#87878b"/>
<rect x="427.60" y="319.6" width="2.0" height="11.6" fill="#87878b"/>
<rect x="436.90" y="319.6" width="2.0" height="12.7" fill="#87878b"/>
<rect x="440.60" y="319.6" width="2.0" height="25.7" fill="#87878b"/>
<rect x="445.40" y="297.2" width="2.0" height="22.4" fill="#87878b"/>
<polyline points="356.7,287.5 362.8,271.8 363.6,281.5 372.8,288.8 380.1,289.6 386.9,310.0 396.3,316.5 405.2,316.5 412.5,318.6 419.7,288.0 428.6,268.6 437.9,275.1 441.6,311.6 446.4,282.3" fill="none" stroke="#000" stroke-width="1.06" stroke-linejoin="round"/>
<polyline points="355.9,305.0 362.8,281.5 372.0,298.5 380.1,275.1 386.9,293.7 394.7,292.9 405.2,312.3 412.5,309.8 419.7,301.8 428.6,307.4 437.9,288.8 446.4,255.7" fill="none" stroke="#000" stroke-width="1.06" stroke-dasharray="4.3 3.85" stroke-linejoin="round"/>
</g>
<rect x="351.2" y="251.5" width="102.3" height="97.9" fill="none" stroke="#505050" stroke-width="0.85"/>
<rect x="351.2" y="237.3" width="102.3" height="14.2" fill="#fff" stroke="#505050" stroke-width="0.85"/>
<line x1="350.70" x2="454.00" y1="251.5" y2="251.5" stroke="#1c1c1c" stroke-width="1.05"/>
<text x="402.4" y="246.8" font-size="6.75" font-weight="bold" text-anchor="middle" fill="#000" stroke="#000" stroke-width="0.12">United Kingdom</text>
<text transform="translate(346.2,271.25) scale(1,1.07)" font-size="8.5" text-anchor="end" fill="#3d3d3d" stroke="#3d3d3d" stroke-width="0.22">5.0%</text>
<text transform="translate(458.5,271.25) scale(1,1.07)" font-size="8.5" text-anchor="start" fill="#3d3d3d" stroke="#3d3d3d" stroke-width="0.22">5.0</text>
<text transform="translate(346.2,297.25) scale(1,1.07)" font-size="8.5" text-anchor="end" fill="#3d3d3d" stroke="#3d3d3d" stroke-width="0.22">2.5%</text>
<text transform="translate(458.5,297.25) scale(1,1.07)" font-size="8.5" text-anchor="start" fill="#3d3d3d" stroke="#3d3d3d" stroke-width="0.22">2.5</text>
<text transform="translate(346.2,323.25) scale(1,1.07)" font-size="8.5" text-anchor="end" fill="#3d3d3d" stroke="#3d3d3d" stroke-width="0.22">0.0%</text>
<text transform="translate(458.5,323.25) scale(1,1.07)" font-size="8.5" text-anchor="start" fill="#3d3d3d" stroke="#3d3d3d" stroke-width="0.22">0.0</text>
<text transform="translate(346.2,349.25) scale(1,1.07)" font-size="8.5" text-anchor="end" fill="#3d3d3d" stroke="#3d3d3d" stroke-width="0.22">−2.5%</text>
<text transform="translate(458.5,349.25) scale(1,1.07)" font-size="8.5" text-anchor="start" fill="#3d3d3d" stroke="#3d3d3d" stroke-width="0.22">−2.5</text>
<line x1="373.3" x2="373.3" y1="349.4" y2="352.59999999999997" stroke="#333" stroke-width="1"/>
<text transform="translate(373.8,355.7) rotate(-45)" font-size="8.5" text-anchor="end" dominant-baseline="auto" dy="5.2" fill="#3d3d3d" stroke="#3d3d3d" stroke-width="0.22">1980</text>
<line x1="409.6" x2="409.6" y1="349.4" y2="352.59999999999997" stroke="#333" stroke-width="1"/>
<text transform="translate(410.1,355.7) rotate(-45)" font-size="8.5" text-anchor="end" dominant-baseline="auto" dy="5.2" fill="#3d3d3d" stroke="#3d3d3d" stroke-width="0.22">2000</text>
<line x1="446.0" x2="446.0" y1="349.4" y2="352.59999999999997" stroke="#333" stroke-width="1"/>
<text transform="translate(446.5,355.7) rotate(-45)" font-size="8.5" text-anchor="end" dominant-baseline="auto" dy="5.2" fill="#3d3d3d" stroke="#3d3d3d" stroke-width="0.22">2020</text>
</g>
<g>
<clipPath id="cUnitedStates"><rect x="508.1" y="251.5" width="102.3" height="97.9"/></clipPath>
<rect x="508.1" y="251.5" width="102.3" height="97.9" fill="#fff"/>
<g clip-path="url(#cUnitedStates)">
<line x1="508.1" x2="610.4" y1="265.7" y2="265.7" stroke="#eff1f4" stroke-width="0.8"/>
<line x1="508.1" x2="610.4" y1="292.1" y2="292.1" stroke="#eff1f4" stroke-width="0.8"/>
<line x1="508.1" x2="610.4" y1="318.5" y2="318.5" stroke="#eff1f4" stroke-width="0.8"/>
<line x1="508.1" x2="610.4" y1="344.9" y2="344.9" stroke="#eff1f4" stroke-width="0.8"/>
<line x1="512.0" x2="512.0" y1="251.5" y2="349.4" stroke="#eff1f4" stroke-width="0.8"/>
<line x1="548.4" x2="548.4" y1="251.5" y2="349.4" stroke="#eff1f4" stroke-width="0.8"/>
<line x1="584.7" x2="584.7" y1="251.5" y2="349.4" stroke="#eff1f4" stroke-width="0.8"/>
<line x1="508.1" x2="610.4" y1="252.4" y2="252.4" stroke="#ebedf0" stroke-width="1.0"/>
<line x1="508.1" x2="610.4" y1="278.8" y2="278.8" stroke="#ebedf0" stroke-width="1.0"/>
<line x1="508.1" x2="610.4" y1="305.2" y2="305.2" stroke="#ebedf0" stroke-width="1.0"/>
<line x1="508.1" x2="610.4" y1="331.6" y2="331.6" stroke="#ebedf0" stroke-width="1.0"/>
<line x1="530.2" x2="530.2" y1="251.5" y2="349.4" stroke="#ebedf0" stroke-width="1.0"/>
<line x1="566.6" x2="566.6" y1="251.5" y2="349.4" stroke="#ebedf0" stroke-width="1.0"/>
<line x1="602.9" x2="602.9" y1="251.5" y2="349.4" stroke="#ebedf0" stroke-width="1.0"/>
<rect x="523.50" y="331.7" width="2.0" height="10.8" fill="#87878b"/>
<rect x="530.90" y="331.7" width="2.0" height="13.6" fill="#87878b"/>
<rect x="538.20" y="331.7" width="2.0" height="3.9" fill="#87878b"/>
<rect x="545.50" y="308.9" width="2.0" height="22.8" fill="#87878b"/>
<rect x="553.10" y="301.6" width="2.0" height="30.1" fill="#87878b"/>
<rect x="560.00" y="323.1" width="2.0" height="8.6" fill="#87878b"/>
<rect x="567.20" y="326.3" width="2.0" height="5.4" fill="#87878b"/>
<rect x="574.60" y="331.7" width="2.0" height="13.1" fill="#87878b"/>
<rect x="581.70" y="331.7" width="2.0" height="13.6" fill="#87878b"/>
<rect x="589.20" y="331.7" width="2.0" height="3.9" fill="#87878b"/>
<rect x="596.30" y="298.8" width="2.0" height="32.9" fill="#87878b"/>
<polyline points="517.7,287.5 524.2,286.4 539.2,302.6 546.5,269.1 554.1,300.1 561.4,312.8 568.6,309.5 575.9,288.5 590.2,300.5 597.0,265.4" fill="none" stroke="#000" stroke-width="1.06" stroke-linejoin="round"/>
<polyline points="517.7,288.8 524.2,307.4 531.5,290.4 539.2,288.8 546.5,279.1 554.1,310.7 561.4,311.1 568.6,305.8 575.9,308.2 582.4,290.4 590.2,285.6 597.0,256.5" fill="none" stroke="#000" stroke-width="1.06" stroke-dasharray="4.3 3.85" stroke-linejoin="round"/>
</g>
<rect x="508.1" y="251.5" width="102.3" height="97.9" fill="none" stroke="#505050" stroke-width="0.85"/>
<rect x="508.1" y="237.3" width="102.3" height="14.2" fill="#fff" stroke="#505050" stroke-width="0.85"/>
<line x1="507.60" x2="610.90" y1="251.5" y2="251.5" stroke="#1c1c1c" stroke-width="1.05"/>
<text x="559.2" y="246.8" font-size="6.75" font-weight="bold" text-anchor="middle" fill="#000" stroke="#000" stroke-width="0.12">United States</text>
<text transform="translate(503.1,256.05) scale(1,1.07)" font-size="8.5" text-anchor="end" fill="#3d3d3d" stroke="#3d3d3d" stroke-width="0.22">7.5%</text>
<text transform="translate(615.4,256.05) scale(1,1.07)" font-size="8.5" text-anchor="start" fill="#3d3d3d" stroke="#3d3d3d" stroke-width="0.22">7.5</text>
<text transform="translate(503.1,282.40) scale(1,1.07)" font-size="8.5" text-anchor="end" fill="#3d3d3d" stroke="#3d3d3d" stroke-width="0.22">5.0%</text>
<text transform="translate(615.4,282.40) scale(1,1.07)" font-size="8.5" text-anchor="start" fill="#3d3d3d" stroke="#3d3d3d" stroke-width="0.22">5.0</text>
<text transform="translate(503.1,308.85) scale(1,1.07)" font-size="8.5" text-anchor="end" fill="#3d3d3d" stroke="#3d3d3d" stroke-width="0.22">2.5%</text>
<text transform="translate(615.4,308.85) scale(1,1.07)" font-size="8.5" text-anchor="start" fill="#3d3d3d" stroke="#3d3d3d" stroke-width="0.22">2.5</text>
<text transform="translate(503.1,335.25) scale(1,1.07)" font-size="8.5" text-anchor="end" fill="#3d3d3d" stroke="#3d3d3d" stroke-width="0.22">0.0%</text>
<text transform="translate(615.4,335.25) scale(1,1.07)" font-size="8.5" text-anchor="start" fill="#3d3d3d" stroke="#3d3d3d" stroke-width="0.22">0.0</text>
<line x1="530.2" x2="530.2" y1="349.4" y2="352.59999999999997" stroke="#333" stroke-width="1"/>
<text transform="translate(530.7,355.7) rotate(-45)" font-size="8.5" text-anchor="end" dominant-baseline="auto" dy="5.2" fill="#3d3d3d" stroke="#3d3d3d" stroke-width="0.22">1980</text>
<line x1="566.6" x2="566.6" y1="349.4" y2="352.59999999999997" stroke="#333" stroke-width="1"/>
<text transform="translate(567.1,355.7) rotate(-45)" font-size="8.5" text-anchor="end" dominant-baseline="auto" dy="5.2" fill="#3d3d3d" stroke="#3d3d3d" stroke-width="0.22">2000</text>
<line x1="602.9" x2="602.9" y1="349.4" y2="352.59999999999997" stroke="#333" stroke-width="1"/>
<text transform="translate(603.4,355.7) rotate(-45)" font-size="8.5" text-anchor="end" dominant-baseline="auto" dy="5.2" fill="#3d3d3d" stroke="#3d3d3d" stroke-width="0.22">2020</text>
</g>
<text transform="translate(8.4,182.5) rotate(-90)" font-size="10.2" word-spacing="0.5" text-anchor="middle" fill="#000">Salience (in %)</text>
<text transform="translate(635.0,182.75) rotate(90)" font-size="10.15" word-spacing="0.8" text-anchor="middle" fill="#000">Complement vs. Trade−Off (in p.p.)</text>
<rect x="236.8" y="397.4" width="179.8" height="27.0" fill="#fff" stroke="#000" stroke-width="0.9"/>
<line x1="243.6" x2="257.0" y1="410.9" y2="410.9" stroke="#000" stroke-width="1.15"/>
<text x="264.2" y="414.0" font-size="8.6" fill="#000">Economic Equality</text>
<line x1="341.8" x2="355.0" y1="410.9" y2="410.9" stroke="#000" stroke-width="1.15" stroke-dasharray="4.3 3.85"/>
<text x="362.8" y="414.0" font-size="8.6" fill="#000">Equal Rights</text>
</svg>
</body></html>
